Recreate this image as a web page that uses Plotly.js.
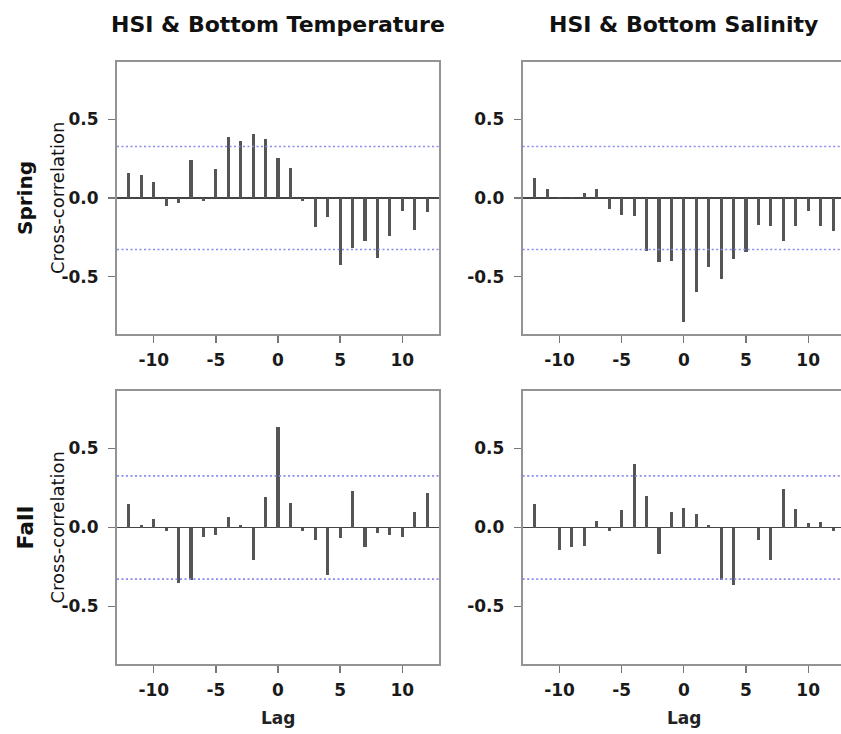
<!DOCTYPE html>
<html>
<head>
<meta charset="utf-8">
<script src="https://cdn.plot.ly/plotly-3.0.1.min.js"></script>
<style>
  html, body { margin: 0; padding: 0; overflow: hidden; background: #fff; }
</style>
</head>
<body>
<div id="chart"></div>
<script>
// ---- data ----
const lags = [-12,-11,-10,-9,-8,-7,-6,-5,-4,-3,-2,-1,0,1,2,3,4,5,6,7,8,9,10,11,12];
const springTemp = [0.157,0.148,0.10,-0.049,-0.034,0.244,-0.017,0.182,0.386,0.364,0.407,0.375,0.256,0.19,-0.02,-0.186,-0.123,-0.426,-0.318,-0.271,-0.383,-0.244,-0.08,-0.201,-0.091];
const springSal  = [0.127,0.057,0.008,0.004,0.03,0.06,-0.072,-0.106,-0.117,-0.335,-0.409,-0.398,-0.79,-0.60,-0.436,-0.515,-0.388,-0.345,-0.169,-0.18,-0.275,-0.18,-0.08,-0.176,-0.208];
const fallTemp   = [0.149,0.013,0.053,-0.019,-0.351,-0.334,-0.057,-0.05,0.065,0.015,-0.208,0.195,0.637,0.158,-0.019,-0.082,-0.298,-0.067,0.229,-0.124,-0.034,-0.05,-0.057,0.097,0.216];
const fallSal    = [0.149,-0.004,-0.141,-0.124,-0.116,0.044,-0.019,0.113,0.405,0.202,-0.166,0.10,0.122,0.086,0.013,-0.334,-0.366,-0.004,-0.082,-0.208,0.244,0.118,0.027,0.038,-0.023];
const ciBound = 0.327;
const colTitles = ["HSI & Bottom Temperature", "HSI & Bottom Salinity"];
const rowTitles = ["Spring", "Fall"];
const yLabel = "Cross-correlation";
const xLabel = "Lag";
const xTickVals = [-10,-5,0,5,10];
const xTickText = ["-10","-5","0","5","10"];
const yTickVals = [-0.5,0,0.5];
const yTickText = ["-0.5","0.0","0.5"];

// ---- layout helpers ----
const W = 850, H = 734;
const FONT = "DejaVu Sans";
const xDom = [[117/W, 439/W], [522.7/W, 845/W]];
const yDom = [[1-334/H, 1-62/H], [1-664/H, 1-391/H]];
const rowFontSize = [20, 22];
const panels = [
  {vals: springTemp, row: 0, col: 0},
  {vals: springSal,  row: 0, col: 1},
  {vals: fallTemp,   row: 1, col: 0},
  {vals: fallSal,    row: 1, col: 1}
];

const traces = [];
const layout = {
  width: W, height: H,
  margin: {l: 0, r: 0, t: 0, b: 0},
  paper_bgcolor: "#fff", plot_bgcolor: "#fff",
  showlegend: false,
  font: {family: FONT, color: "#111"},
  shapes: [], annotations: [],
  bargap: 0
};

panels.forEach((p, i) => {
  const n = i + 1;
  const xa = "x" + (n === 1 ? "" : n), ya = "y" + (n === 1 ? "" : n);
  traces.push({
    type: "bar", x: lags, y: p.vals, xaxis: xa, yaxis: ya,
    width: 0.25, marker: {color: "#555", line: {width: 0}},
    hoverinfo: "x+y"
  });
  const axCommon = {
    showline: true, mirror: true, linecolor: "#939393", linewidth: 2,
    showgrid: false, ticks: "outside", ticklen: 7, tickwidth: 1.3, tickcolor: "#777",
    tickfont: {family: FONT, size: 17, color: "#1a1a1a", weight: "bold"}, fixedrange: true
  };
  layout["xaxis" + (n === 1 ? "" : n)] = Object.assign({}, axCommon, {
    domain: xDom[p.col], anchor: ya, range: [-12.96, 12.96],
    tickvals: xTickVals, ticktext: xTickText, zeroline: false, ticklabelstandoff: 3
  });
  layout["yaxis" + (n === 1 ? "" : n)] = Object.assign({}, axCommon, {
    domain: yDom[p.row], anchor: xa, range: [-0.864, 0.864],
    tickvals: yTickVals, ticktext: yTickText,
    zeroline: true, zerolinecolor: "#444", zerolinewidth: 1.5, ticklabelstandoff: 6
  });
  [ciBound, -ciBound].forEach(v => layout.shapes.push({
    type: "line", xref: xa + " domain", yref: ya, x0: 0, x1: 1, y0: v, y1: v,
    line: {color: "#8a8af0", width: 1.6, dash: "2px,2.5px"}, layer: "above"
  }));
  if (p.col === 0) {
    layout.annotations.push({
      text: yLabel, textangle: -90, xref: "paper", yref: ya, x: 57/W, y: 0,
      xanchor: "center", yanchor: "middle", showarrow: false,
      font: {family: FONT, size: 18, color: "#111"}
    });
    layout.annotations.push({
      text: "<b>" + rowTitles[p.row] + "</b>", textangle: -90, xref: "paper", yref: ya, x: 25/W, y: 0,
      xanchor: "center", yanchor: "middle", showarrow: false,
      font: {family: FONT, size: rowFontSize[p.row], color: "#111"}
    });
  }
  if (p.row === 0) {
    layout.annotations.push({
      text: "<b>" + colTitles[p.col] + "</b>", xref: xa, yref: "paper", x: 0, y: 1 - 24/H,
      xanchor: "center", yanchor: "middle", showarrow: false,
      font: {family: FONT, size: 22, color: "#111"}
    });
  } else {
    layout.annotations.push({
      text: "<b>" + xLabel + "</b>", xref: xa, yref: "paper", x: 0, y: 1 - 718/H,
      xanchor: "center", yanchor: "middle", showarrow: false,
      font: {family: FONT, size: 17, color: "#222"}
    });
  }
});

Plotly.newPlot("chart", traces, layout, {displayModeBar: false, staticPlot: true});
</script>
</body>
</html>
